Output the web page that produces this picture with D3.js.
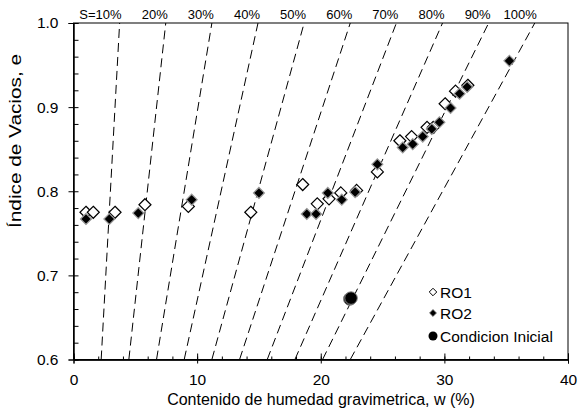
<!DOCTYPE html>
<html><head><meta charset="utf-8">
<script src="https://cdn.jsdelivr.net/npm/d3@7/dist/d3.min.js"></script>
<style>body{margin:0;background:#fff}svg{display:block;font-family:"Liberation Sans",Arial,sans-serif}</style>
</head><body><svg id="c" width="579" height="417"></svg>
<script>
// ---- data ----
const saturations = [10,20,30,40,50,60,70,80,90,100];
const satLabels = ["S=10%","20%","30%","40%","50%","60%","70%","80%","90%","100%"];
const Gs = 2.68; // specific gravity used for the saturation lines e = Gs*w/S
const ro1W = [1.01,1.60,3.36,5.78,9.29,14.34,18.54,19.72,20.67,21.62,22.90,24.58,26.40,27.35,28.60,29.10,30.06,30.90,31.90];
const ro1E = [0.775,0.775,0.775,0.784,0.782,0.775,0.808,0.785,0.791,0.798,0.801,0.823,0.860,0.865,0.876,0.876,0.904,0.919,0.926];
const ro2W = [1.01,2.90,5.24,9.56,15.00,18.87,19.62,20.57,21.70,22.78,24.58,26.63,27.44,28.25,28.98,29.60,30.50,31.23,31.84,35.26];
const ro2E = [0.767,0.767,0.774,0.790,0.798,0.773,0.773,0.798,0.790,0.799,0.832,0.852,0.856,0.865,0.874,0.882,0.899,0.916,0.924,0.955];
const iniW = [22.35,22.45];
const iniE = [0.672,0.673];
const xTicks = [0,10,20,30,40];
const yTicks = [0.6,0.7,0.8,0.9,1.0];
const legendItems = ["RO1","RO2","Condicion Inicial"];

// ---- chart ----
const svg = d3.select("#c");
const x = d3.scaleLinear().domain([0,40]).range([73.5,568]);
const y = d3.scaleLinear().domain([0.6,1.0]).range([359.5,23]);
const L=x(0),R=x(40),T=y(1.0),B=y(0.6);

svg.append("clipPath").attr("id","clip").append("rect")
  .attr("x",L).attr("y",T).attr("width",R-L).attr("height",B-T);

// saturation lines
const gLines = svg.append("g").attr("clip-path","url(#clip)");
saturations.forEach(S=>{
  const w0 = 0.6*S/Gs, w1 = 1.0*S/Gs;
  gLines.append("line")
    .attr("x1",x(w0)).attr("y1",y(0.6)).attr("x2",x(w1)).attr("y2",y(1.0))
    .attr("stroke","#000").attr("stroke-width",1).attr("stroke-dasharray","9,5");
});
saturations.forEach((S,i)=>{
  svg.append("text").attr("x",x(1.0*S/Gs)+2).attr("y",19)
    .attr("text-anchor","end").attr("font-size","13px").text(satLabels[i]);
});

// axes
svg.append("g").attr("transform",`translate(0,${B})`)
  .call(d3.axisBottom(x).tickValues(xTicks).tickSize(4).tickPadding(10).tickFormat(d3.format("d")));
svg.append("g").attr("transform",`translate(0,${B})`)
  .call(d3.axisTop(x).tickValues(d3.range(0,41,2)).tickSize(3).tickFormat(""));
svg.append("g").attr("transform",`translate(0,${B})`)
  .call(d3.axisTop(x).tickValues(xTicks).tickSize(6).tickFormat(""));
svg.append("g").attr("transform",`translate(${L},0)`)
  .call(d3.axisLeft(y).tickValues(yTicks).tickSize(5).tickPadding(10).tickFormat(d3.format(".1f")));
svg.append("g").attr("transform",`translate(${L},0)`)
  .call(d3.axisRight(y).tickValues(d3.range(0,21).map(i=>0.6+i*0.02)).tickSize(5).tickFormat(""));
svg.selectAll(".domain").attr("stroke","#000");
svg.selectAll(".tick line").attr("stroke","#000");
svg.selectAll(".tick text").attr("font-size","15.5px").attr("fill","#000").attr("font-family","Liberation Sans, Arial, sans-serif");

svg.append("rect").attr("x",L).attr("y",T).attr("width",R-L).attr("height",B-T)
  .attr("fill","none").attr("stroke","#000").attr("stroke-width",1);

// titles
svg.append("text").attr("x",(165+477)/2).attr("y",405).attr("text-anchor","middle")
  .attr("font-size","16px").text("Contenido de humedad gravimetrica, w (%)");
svg.append("text").attr("transform","translate(21,141) rotate(-90)").attr("text-anchor","middle")
  .attr("font-size","16px").attr("textLength",174).attr("lengthAdjust","spacingAndGlyphs")
  .text("Índice de Vacios, e");

// points
const diamond = d3.symbol().type(d3.symbolDiamond2);
const ro1 = ro1W.map((w,i)=>({w,e:ro1E[i]}));
const ro2 = ro2W.map((w,i)=>({w,e:ro2E[i]}));
const ini = iniW.map((w,i)=>({w,e:iniE[i]}));
svg.append("g").selectAll("path").data(ro1).join("path")
  .attr("d",diamond.size(92)).attr("transform",d=>`translate(${x(d.w)},${y(d.e)})`)
  .attr("fill","#fff").attr("stroke","#000").attr("stroke-width",1.2);
svg.append("g").selectAll("path").data(ro2).join("path")
  .attr("d",diamond.size(76)).attr("transform",d=>`translate(${x(d.w)},${y(d.e)})`)
  .attr("fill","#000").attr("stroke","#999").attr("stroke-width",1.2);
svg.append("g").selectAll("circle").data(ini).join("circle")
  .attr("cx",d=>x(d.w)).attr("cy",d=>y(d.e)).attr("r",6.3)
  .attr("fill","#000").attr("stroke","#888").attr("stroke-width",1);

// legend
const lg = svg.append("g");
const rows=[292,313,336];
lg.append("path").attr("d",d3.symbol().type(d3.symbolDiamond2).size(36)())
  .attr("transform",`translate(433,${rows[0]})`).attr("fill","#fff").attr("stroke","#000").attr("stroke-width",1);
lg.append("path").attr("d",d3.symbol().type(d3.symbolDiamond2).size(30)())
  .attr("transform",`translate(433,${rows[1]})`).attr("fill","#000").attr("stroke","#666").attr("stroke-width",0.8);
lg.append("circle").attr("cx",433).attr("cy",rows[2]).attr("r",4.5).attr("fill","#000");
legendItems.forEach((t,i)=>{
  lg.append("text").attr("x",440).attr("y",rows[i]+5.5).attr("font-size","15.5px").text(t);
});
</script></body></html>
